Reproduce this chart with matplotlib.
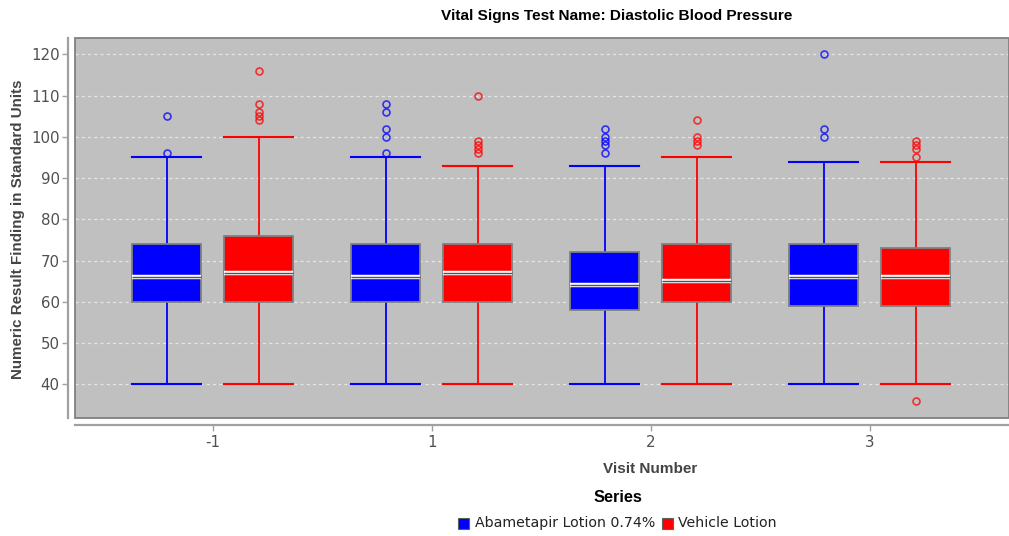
import matplotlib
matplotlib.use("Agg")
import matplotlib.pyplot as plt
from matplotlib.patches import Rectangle

# Visits on the category axis
visits = ["-1", "1", "2", "3"]
series_names = ["Abametapir Lotion 0.74%", "Vehicle Lotion"]
series_colors = ["#0000ff", "#ff0000"]

# Box statistics per visit: Abametapir Lotion 0.74%
abam_q1 = [60, 60, 58, 59]
abam_med = [66, 66, 64, 66]
abam_q3 = [74, 74, 72, 74]
abam_lo = [40, 40, 40, 40]
abam_hi = [95, 95, 93, 94]
abam_out = [[96, 105], [96, 100, 102, 106, 108], [96, 98, 99, 100, 102], [100, 102, 120]]

# Box statistics per visit: Vehicle Lotion
veh_q1 = [60, 60, 60, 59]
veh_med = [67, 67, 65, 66]
veh_q3 = [76, 74, 74, 73]
veh_lo = [40, 40, 40, 40]
veh_hi = [100, 93, 95, 94]
veh_out = [[104, 105, 106, 108, 116], [96, 97, 98, 99, 110], [98, 99, 100, 104], [36, 95, 97, 98, 99]]

series = [
    (abam_q1, abam_med, abam_q3, abam_lo, abam_hi, abam_out),
    (veh_q1, veh_med, veh_q3, veh_lo, veh_hi, veh_out),
]

W, H = 1009, 536
fig = plt.figure(figsize=(W / 100, H / 100), dpi=100)
plt.rcParams["font.family"] = ["DejaVu Sans"]

left, right, top, bottom = 75, 1009, 37.5, 418
ax = fig.add_axes([left / W, 1 - bottom / H, (right - left) / W, (bottom - top) / H])
ax.set_facecolor("#c0c0c0")

box_w = 0.315
offset = 0.21

for s, (q1, med, q3, lo, hi, out) in enumerate(series):
    col = series_colors[s]
    pos = [i + (2 * s - 1) * offset for i in range(len(visits))]
    stats = []
    for i in range(len(visits)):
        stats.append(dict(q1=q1[i], med=med[i], q3=q3[i], whislo=lo[i], whishi=hi[i],
                          fliers=out[i]))
    ax.bxp(stats, positions=pos, widths=box_w, patch_artist=True, showfliers=True,
           capwidths=box_w,
           boxprops=dict(facecolor=col, edgecolor="#808080", linewidth=1.3, zorder=3),
           whiskerprops=dict(color=col, linewidth=1.3, zorder=2),
           capprops=dict(color=col, linewidth=1.5, zorder=2),
           medianprops=dict(color="white", linewidth=3.2, zorder=4),
           flierprops=dict(marker="o", markersize=5.0, markerfacecolor="none",
                           markeredgecolor=col, markeredgewidth=1.2, alpha=0.75, zorder=4))
    ax.hlines(med, [p - box_w / 2 for p in pos], [p + box_w / 2 for p in pos],
              colors="#505050", linewidth=1.0, zorder=5)

ax.set_xlim(-0.63, 3.635)
ax.set_ylim(31.8, 124.1)
ax.set_yticks(range(40, 121, 10))
ax.set_xticks(range(len(visits)))
ax.set_xticklabels(visits)

ax.yaxis.grid(True, color="#e6e6e6", linestyle=(0, (2.5, 2.5)), linewidth=0.9, zorder=0)
ax.set_axisbelow(True)

for side in ["top", "right"]:
    ax.spines[side].set_visible(False)
for side in ["left", "bottom"]:
    ax.spines[side].set_position(("outward", 5))
    ax.spines[side].set_color("#a0a0a0")
    ax.spines[side].set_linewidth(1.6)

# plot outline
ax.add_patch(Rectangle((0, 0), 1, 1, transform=ax.transAxes, fill=False,
                       edgecolor="#808080", linewidth=1.3, clip_on=False, zorder=6))

ax.tick_params(axis="both", colors="#a0a0a0", length=4, width=1, labelcolor="#505050",
               labelsize=10.8)
ax.tick_params(axis="y", pad=2)
ax.tick_params(axis="x", pad=3)

fig.text(617 / W, 1 - 16 / H, "Vital Signs Test Name: Diastolic Blood Pressure",
         ha="center", va="center", fontsize=11.1, fontweight="bold",
         family="Liberation Sans", color="#000000")
fig.text(650 / W, 1 - 469 / H, "Visit Number", ha="center", va="center", fontsize=11,
         fontweight="bold", family="Liberation Sans", color="#444444")
fig.text(18 / W, 1 - 229 / H, "Numeric Result Finding in Standard Units", ha="center",
         va="center", rotation=90, fontsize=10.9, fontweight="bold",
         family="Liberation Sans", color="#444444")

fig.text(618 / W, 1 - 497 / H, "Series", ha="center", va="center", fontsize=11.8,
         fontweight="bold", family="Liberation Sans", color="#000000")

# legend row
sq = 11
leg_y = 523
items = [(458, 475), (662, 678)]
for (sx, tx), name, col in zip(items, series_names, series_colors):
    fig.patches.append(Rectangle((sx / W, 1 - (leg_y + sq / 2) / H), sq / W, sq / H,
                                 transform=fig.transFigure, facecolor=col,
                                 edgecolor="#606060", linewidth=0.8))
    fig.text(tx / W, 1 - leg_y / H, name, ha="left", va="center", fontsize=10.2,
             color="#222222")

fig.savefig("out.png", dpi=100, facecolor="white")
